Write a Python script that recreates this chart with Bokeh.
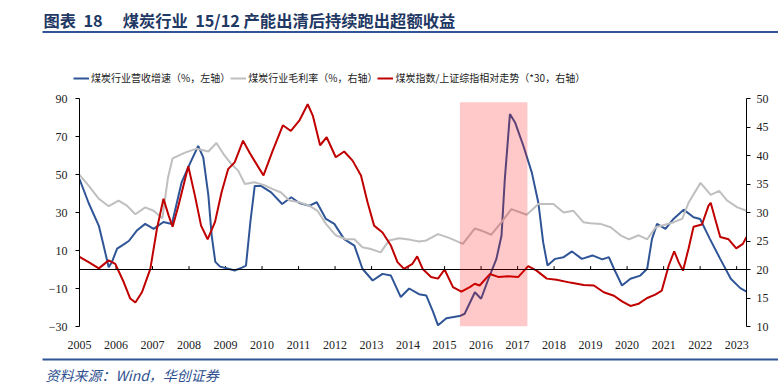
from bokeh.plotting import figure
from bokeh.models import (ColumnDataSource, Range1d, LinearAxis, FixedTicker, Span,
                          BoxAnnotation, Legend, LegendItem)
from bokeh.layouts import column
from bokeh.embed import file_html
from bokeh.resources import INLINE
from bokeh.core.properties import value

# ---------------- data ----------------
NB = "\u00a0"
title_text = "图表" + NB * 2 + "18" + "\u3000" + NB + "煤炭行业" + NB * 2 + "15/12" + NB + "产能出清后持续跑出超额收益"
source_text = "资料来源：Wind，华创证券"
series_names = ["煤炭行业营收增速（%，左轴）", "煤炭行业毛利率（%，右轴）",
                "煤炭指数/上证综指相对走势（*30，右轴）"]
years = list(range(2005, 2024))
year_labels = [str(y) for y in years]
left_ticks = [-30, -10, 10, 30, 50, 70, 90]
right_ticks = [10, 15, 20, 25, 30, 35, 40, 45, 50]
shade_period = [2015.42, 2017.27]

# revenue growth (%, left axis)
rev_t = [2005.0, 2005.25, 2005.53, 2005.66, 2005.8, 2005.89, 2006.03, 2006.16, 2006.35, 2006.57,
         2006.8, 2007.03, 2007.3, 2007.53, 2007.8, 2008.03, 2008.25, 2008.39, 2008.53, 2008.62,
         2008.72, 2008.85, 2009.05, 2009.25, 2009.45, 2009.56, 2009.68, 2009.8, 2009.97, 2010.25,
         2010.55, 2010.8, 2011.02, 2011.3, 2011.5, 2011.75, 2011.98, 2012.25, 2012.53, 2012.75,
         2013.03, 2013.3, 2013.53, 2013.8, 2014.03, 2014.3, 2014.5, 2014.68, 2014.82, 2015.05,
         2015.41, 2015.55, 2015.83, 2016.0, 2016.2, 2016.42, 2016.56, 2016.65, 2016.79, 2016.93,
         2017.16, 2017.39, 2017.57, 2017.7, 2017.82, 2018.03, 2018.26, 2018.49, 2018.76, 2019.05,
         2019.32, 2019.5, 2019.64, 2019.86, 2020.09, 2020.36, 2020.55, 2020.68, 2020.82, 2021.05,
         2021.27, 2021.55, 2021.82, 2022.0, 2022.27, 2022.55, 2022.84, 2023.1, 2023.27]
rev = [47.6, 35, 23, 12.6, 1.2, 4, 11, 12.6, 15, 20.5,
       24, 21.4, 25, 24, 46, 56, 65, 59, 39, 18,
       4, 1.5, 0.5, -0.5, 1, 2, 25, 44, 44, 40.6,
       34.5, 38, 35, 33.6, 35.4, 26.6, 24, 16, 12.6, 0.4,
       -5.8, -2.3, -3.2, -14.5, -10, -13, -13.7, -22, -29.4, -25.6,
       -24.5, -23.3, -12, -15.4, -5, 5.6, 17.9, 47.6, 81.8, 77.4,
       65, 51, 35, 14.4, 2.1, 5.6, 6.5, 9.5, 5.6, 7.4,
       5.3, 6.5, 0.4, -8.4, -4.9, -3.2, 0.4, 16, 24, 21.4,
       26.6, 31.5, 27.5, 26.6, 16, 5.6, -4.9, -9.8, -11.6]

# gross margin (%, right axis)
margin_t = [2005.0, 2005.25, 2005.53, 2005.8, 2006.07, 2006.3, 2006.53, 2006.8, 2007.03, 2007.27,
            2007.42, 2007.55, 2007.89, 2008.21, 2008.53, 2008.75, 2008.94, 2009.16, 2009.35, 2009.53,
            2009.79, 2010.06, 2010.29, 2010.52, 2010.75, 2011.02, 2011.29, 2011.52, 2011.75, 2012.02,
            2012.3, 2012.53, 2012.75, 2012.98, 2013.25, 2013.48, 2013.76, 2014.07, 2014.3, 2014.5,
            2014.82, 2015.14, 2015.5, 2015.83, 2016.06, 2016.28, 2016.56, 2016.83, 2017.25, 2017.57,
            2017.98, 2018.26, 2018.53, 2018.8, 2019.0, 2019.27, 2019.55, 2019.82, 2020.05, 2020.32,
            2020.55, 2020.78, 2021.01, 2021.28, 2021.51, 2021.69, 2022.01, 2022.29, 2022.52, 2022.74,
            2023.02, 2023.27]
margin = [36.6, 34.7, 32.4, 31.1, 32.1, 31.2, 29.7, 30.9, 30.3, 29.0,
          36, 39.5, 40.5, 41.2, 40.7, 42.2, 40.3, 38.5, 37.3, 35,
          35.3, 34.8, 34.1, 33.5, 32.1, 31.8, 31.2, 30.3, 28, 26,
          25.3, 25.3, 23.9, 23.6, 23, 25.1, 25.5, 25.2, 24.9, 25.1,
          26.2, 25.5, 24.5, 27.2, 26.7, 26.1, 28.3, 30.6, 29.6, 31.5,
          31.5, 30, 30.3, 28.3, 28.1, 28, 27.4, 26, 25.3, 26,
          25.3, 27.4, 27.8, 28.3, 28.9, 31.8, 35.2, 33.1, 33.8, 32.1,
          30.9, 30.3]

# coal index / SSE composite relative (*30, right axis)
rel_t = [2005.0, 2005.25, 2005.53, 2005.8, 2005.98, 2006.21, 2006.39, 2006.53, 2006.71, 2006.94,
         2007.12, 2007.3, 2007.44, 2007.55, 2007.71, 2007.98, 2008.16, 2008.33, 2008.51, 2008.71,
         2008.89, 2009.07, 2009.25, 2009.48, 2009.66, 2009.79, 2010.04, 2010.29, 2010.57, 2010.79,
         2011.02, 2011.25, 2011.39, 2011.59, 2011.77, 2012.02, 2012.25, 2012.48, 2012.71, 2012.89,
         2013.07, 2013.3, 2013.53, 2013.71, 2013.89, 2014.12, 2014.25, 2014.4, 2014.63, 2014.82,
         2015.0, 2015.23, 2015.46, 2015.69, 2015.83, 2015.96, 2016.24, 2016.47, 2016.74, 2017.02,
         2017.29, 2017.52, 2017.8, 2018.07, 2018.44, 2018.81, 2019.09, 2019.36, 2019.64, 2019.86,
         2020.09, 2020.32, 2020.55, 2020.77, 2020.95, 2021.14, 2021.29, 2021.41, 2021.53, 2021.68,
         2021.82, 2022.05, 2022.23, 2022.29, 2022.41, 2022.55, 2022.78, 2022.99, 2023.17, 2023.27]
rel = [22.2, 21.3, 20.2, 21.6, 21, 17.8, 14.9, 14.2, 16, 20.1,
       27.1, 32.4, 29.5, 27.5, 31.2, 38.1, 33, 27.7, 25.3, 28.3,
       33.5, 37.6, 38.8, 42.6, 40.5, 39.1, 36.5, 40.8, 45.3, 44.3,
       46.1, 49, 47, 41.8, 43.2, 39.7, 40.7, 39.1, 36.5, 31.8,
       27.7, 26.5, 24.2, 21.3, 20.1, 21, 22.3, 20.1, 18.7, 18.4,
       20, 16.9, 16.1, 16.9, 17.5, 17.2, 19.2, 18.7, 18.8, 18.7,
       20.6, 19.8, 18.4, 18.2, 17.7, 17.3, 17.2, 16, 15.4, 14.4,
       13.6, 14, 15, 15.6, 16.3, 20.7, 23.2, 21.3, 19.8, 23.6,
       27.5, 27.9, 31.2, 31.7, 28.9, 25.7, 25.3, 23.7, 24.5, 25.7]

# ---------------- styles ----------------
BLUE = "#2F5597"
GRAY = "#BFBFBF"
RED = "#C00000"
NAVY = "#1F3864"
CJK = "Noto Sans CJK SC"
W = 778
COLORS = [BLUE, GRAY, RED]

# ---------------- header (title, rule, legend) ----------------
top = figure(width=W, height=88, x_range=Range1d(0, W), y_range=Range1d(88, 0),
             output_backend="svg", toolbar_location=None, min_border=0, frame_align=False,
             x_axis_location=None, y_axis_location=None, outline_line_color=None)
top.grid.visible = False
top.text(x=[43], y=[19], text=[title_text], text_font=value(CJK), text_font_style="bold",
         text_font_size="16.3px", text_baseline="middle", text_color=NAVY)
top.segment(x0=[42], x1=[W], y0=[31.5], y1=[31.5], line_width=2, line_color=BLUE)

# legend keys (same styling as the series drawn below)
key_renderers = [top.line(x=[0], y=[0], line_color=c, line_width=2) for c in COLORS]
legend = Legend(items=[LegendItem(label=n, renderers=[r]) for n, r in zip(series_names, key_renderers)],
                location=(73, 3), orientation="horizontal",
                label_text_font=CJK, label_text_font_size="10px", label_text_color="#222222",
                glyph_width=16, glyph_height=12, label_height=12, label_standoff=2, spacing=-4,
                padding=0, margin=0, background_fill_alpha=0, border_line_alpha=0)
top.add_layout(legend)

# ---------------- main chart ----------------
p = figure(width=W, height=264, x_range=Range1d(2005, 2023.27), y_range=Range1d(-30, 90),
           output_backend="svg", toolbar_location=None, frame_align=False,
           min_border_left=79, min_border_right=32, min_border_top=10, min_border_bottom=26,
           outline_line_color=None)
p.grid.visible = False
p.extra_y_ranges = {"right": Range1d(10, 50)}

p.xaxis.ticker = FixedTicker(ticks=years)
p.xaxis.major_label_overrides = {y: l for y, l in zip(years, year_labels)}
p.xaxis.axis_line_color = None
p.xaxis.major_tick_line_color = None
p.xaxis.minor_tick_line_color = None
p.xaxis.major_label_standoff = 8

p.yaxis.ticker = FixedTicker(ticks=left_ticks)
p.yaxis.minor_tick_line_color = None
p.yaxis.major_tick_in = 0
p.yaxis.major_tick_out = 4
p.yaxis.major_label_standoff = 8

ra = LinearAxis(y_range_name="right", ticker=FixedTicker(ticks=right_ticks))
ra.minor_tick_line_color = None
ra.major_tick_in = 0
ra.major_tick_out = 4
ra.major_label_standoff = 6
p.add_layout(ra, "right")

for ax in [p.xaxis[0], p.yaxis[0], ra]:
    ax.major_label_text_font = "Liberation Serif"
    ax.major_label_text_font_size = "12px"
    ax.major_label_text_color = "#222222"
    if ax is not p.xaxis[0]:
        ax.axis_line_color = "black"
        ax.major_tick_line_color = "black"

# zero line with year ticks
p.add_layout(Span(location=0, dimension="width", line_color="black", line_width=1))
p.segment(x0=years[1:], x1=years[1:], y0=[0] * (len(years) - 1), y1=[1.8] * (len(years) - 1),
          line_color="black", line_width=1)

src_rev = ColumnDataSource(dict(t=rev_t, v=rev))
src_margin = ColumnDataSource(dict(t=margin_t, v=margin))
src_rel = ColumnDataSource(dict(t=rel_t, v=rel))

p.line("t", "v", source=src_rev, line_color=BLUE, line_width=2)
p.line("t", "v", source=src_margin, line_color=GRAY, line_width=2, y_range_name="right")
p.line("t", "v", source=src_rel, line_color=RED, line_width=2, y_range_name="right")

p.add_layout(BoxAnnotation(left=shade_period[0], right=shade_period[1], bottom=-30, top=88,
                           fill_color="#FF0000", fill_alpha=0.21, line_alpha=0))

# ---------------- footer ----------------
bot = figure(width=W, height=38, x_range=Range1d(0, W), y_range=Range1d(38, 0),
             output_backend="svg", toolbar_location=None, min_border=0, frame_align=False,
             x_axis_location=None, y_axis_location=None, outline_line_color=None)
bot.grid.visible = False
bot.segment(x0=[42], x1=[W], y0=[7], y1=[7], line_width=2, line_color=BLUE)
bot.text(x=[45], y=[22], text=[source_text], text_font=value(CJK), text_font_style="italic",
         text_font_size="14px", text_baseline="middle", text_color="#2F4F8F")

layout = column(top, p, bot, spacing=0)
open("out.html", "w").write(file_html(layout, INLINE))
